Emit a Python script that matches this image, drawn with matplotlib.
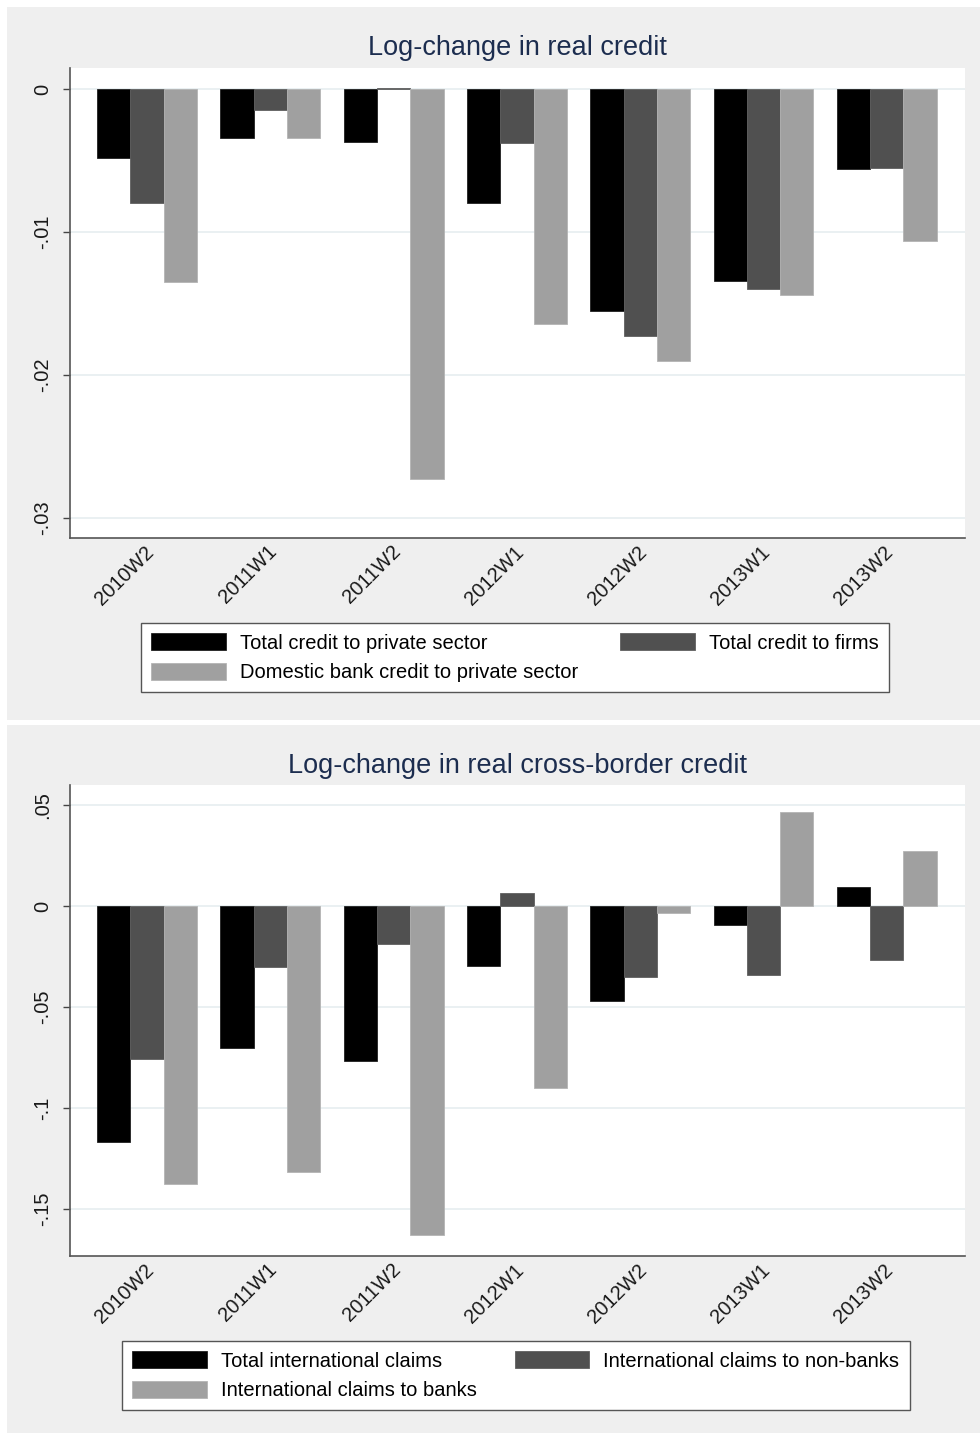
import matplotlib
matplotlib.use("Agg")
import matplotlib.pyplot as plt
from matplotlib.patches import Rectangle
import matplotlib.transforms as mtransforms
import numpy as np

plt.rcParams['font.family'] = ['Liberation Sans', 'DejaVu Sans']

categories = ["2010W2", "2011W1", "2011W2", "2012W1", "2012W2", "2013W1", "2013W2"]

# Panel 1: Log-change in real credit
total_private = [-0.0048, -0.0034, -0.0037, -0.0080, -0.0155, -0.0134, -0.0056]
total_firms = [-0.0080, -0.0015, 0.0001, -0.0038, -0.0173, -0.0140, -0.0055]
domestic_bank = [-0.0135, -0.0034, -0.0273, -0.0164, -0.0190, -0.0144, -0.0106]
labels1 = ["Total credit to private sector", "Total credit to firms",
           "Domestic bank credit to private sector"]
yticks1 = [0, -0.01, -0.02, -0.03]
yticklabels1 = ["0", "-.01", "-.02", "-.03"]

# Panel 2: Log-change in real cross-border credit
total_intl = [-0.1168, -0.0703, -0.0767, -0.0297, -0.0470, -0.0094, 0.0094]
intl_nonbanks = [-0.0757, -0.0302, -0.0188, 0.0064, -0.0351, -0.0342, -0.0267]
intl_banks = [-0.1376, -0.1317, -0.1629, -0.0901, -0.0035, 0.0465, 0.0272]
labels2 = ["Total international claims", "International claims to non-banks",
           "International claims to banks"]
yticks2 = [0.05, 0, -0.05, -0.1, -0.15]
yticklabels2 = [".05", "0", "-.05", "-.1", "-.15"]

colors = ["#000000", "#505050", "#a0a0a0"]
edge = ["#202020", "#606060", "#b4b4b4"]
BG = "#efefef"
W, H = 980, 1433

fig = plt.figure(figsize=(W / 100, H / 100), dpi=100, facecolor="white")


def fig_rect(x0, y0, x1, y1, color):
    fig.add_artist(Rectangle((x0 / W, 1 - y1 / H), (x1 - x0) / W, (y1 - y0) / H,
                             transform=fig.transFigure, facecolor=color,
                             edgecolor="none", zorder=-10))


fig_rect(7, 7, W, 720, BG)
fig_rect(7, 725, W, H, BG)


def make_panel(top_px, bot_px, series, labels, ylim, yticks, yticklabels, title,
               title_y, leg_box, leg_colspace):
    left, right = 70, 965
    ax = fig.add_axes([left / W, 1 - bot_px / H, (right - left) / W, (bot_px - top_px) / H])
    ax.set_facecolor("white")
    x = np.arange(len(categories))
    bw = 0.27
    handles = []
    for k, (vals, lab) in enumerate(zip(series, labels)):
        b = ax.bar(x + (k - 1) * bw, vals, width=bw, color=colors[k], edgecolor=edge[k],
                   linewidth=0.6, label=lab, zorder=3)
        handles.append(b)
    ax.set_xlim(-0.625, 6.635)
    ax.set_ylim(*ylim)
    ax.set_yticks(yticks)
    ax.set_yticklabels(yticklabels, rotation=90, va="center", fontsize=14.5, color="#1a1a1a")
    ax.set_xticks(x)
    ax.set_xticklabels(categories, rotation=45, ha="right", rotation_mode="anchor",
                       fontsize=14.5, color="#1a1a1a")
    ax.tick_params(axis="x", length=0, pad=3)
    ax.tick_params(axis="y", length=5, width=1, color="#444444", pad=8)
    off = mtransforms.ScaledTranslation(-3 / 100, 0, fig.dpi_scale_trans)
    for lbl in ax.get_xticklabels():
        lbl.set_transform(lbl.get_transform() + off)
    ax.grid(axis="y", color="#e6eef0", linewidth=1.2, zorder=0)
    ax.set_axisbelow(True)
    for s in ["top", "right"]:
        ax.spines[s].set_visible(False)
    for s in ["left", "bottom"]:
        ax.spines[s].set_color("#555555")
        ax.spines[s].set_linewidth(1.2)
    fig.text(517.5 / W, 1 - title_y / H, title, ha="center", va="center",
             fontsize=19.5, color="#1c2d4f")
    # legend: row-major order (item1, item2 / item3)
    order = [0, 2, 1]
    lx0, ly0, lx1, ly1 = leg_box
    leg = fig.legend([handles[i] for i in order], [labels[i] for i in order],
                     ncol=2, loc="upper left",
                     bbox_to_anchor=(lx0 / W, 1 - ly0 / H),
                     bbox_transform=fig.transFigure,
                     fontsize=14.5, frameon=True, fancybox=False, shadow=False,
                     handlelength=3.7, handleheight=0.95, handletextpad=0.7,
                     labelspacing=0.5, columnspacing=leg_colspace, borderpad=0.5,
                     borderaxespad=0)
    fr = leg.get_frame()
    fr.set_edgecolor("#555555")
    fr.set_linewidth(1.0)
    fr.set_facecolor("white")
    fr.set_alpha(1)
    return ax


make_panel(68, 538, [total_private, total_firms, domestic_bank], labels1,
           (-0.0314, 0.00147), yticks1, yticklabels1, "Log-change in real credit",
           48, (141, 623, 892, 689), 2.1)
make_panel(785, 1256, [total_intl, intl_nonbanks, intl_banks], labels2,
           (-0.1733, 0.0599), yticks2, yticklabels2,
           "Log-change in real cross-border credit", 766, (122, 1341, 912, 1408), 1.9)

fig.savefig("out.png", dpi=100, facecolor="white")
